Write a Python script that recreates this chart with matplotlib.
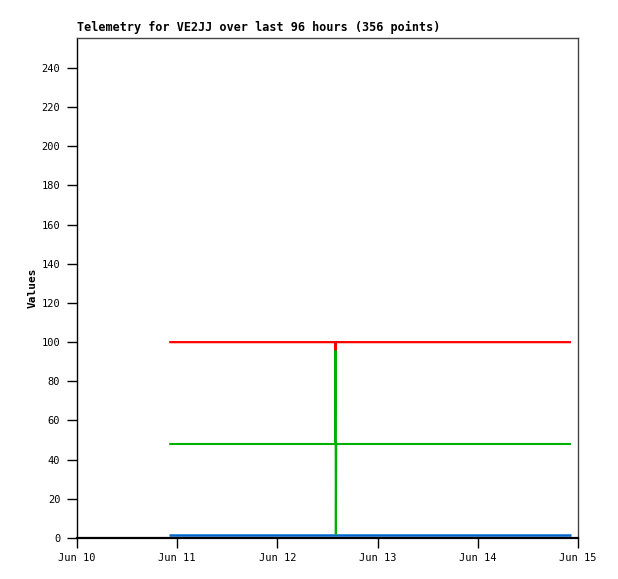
import matplotlib
matplotlib.use("Agg")
import matplotlib.pyplot as plt
import matplotlib.dates as mdates
from datetime import datetime

# Data (break points of the series)
times = ["2024-06-10 22:05", "2024-06-12 13:50", "2024-06-12 13:55",
         "2024-06-12 14:00", "2024-06-12 14:05", "2024-06-14 22:20"]
red_vals = [100, 100, 96, 100, 100, 100]
green_vals = [48, 48, 96, 2, 48, 48]
blue_vals = [1.5, 1.5, 1.5, 1.5, 1.5, 1.5]
yticks = list(range(0, 241, 20))
title = "Telemetry for VE2JJ over last 96 hours (356 points)"

t = [datetime.strptime(s, "%Y-%m-%d %H:%M") for s in times]

plt.rcParams['font.family'] = ['DejaVu Sans Mono']
fig = plt.figure(figsize=(6.18, 5.79), dpi=100)
ax = fig.add_axes([77/618, 1-538/579, (578-77)/618, (538-38)/579])

ax.plot(t, blue_vals, color="#0066cc", lw=1.8, solid_capstyle="butt")
ax.plot(t, green_vals, color="#00b000", lw=1.5, solid_capstyle="butt")
ax.plot(t, red_vals, color="#ff0000", lw=1.6, solid_capstyle="butt")

ax.set_xlim(datetime(2024, 6, 10), datetime(2024, 6, 15))
ax.set_ylim(0, 255.3)
ax.set_yticks(yticks)
ax.xaxis.set_major_locator(mdates.DayLocator())
ax.xaxis.set_major_formatter(mdates.DateFormatter("%b %d"))

ax.tick_params(axis="both", direction="out", length=7, width=1, colors="black",
               labelsize=7.5, pad=5)
ax.tick_params(axis="x", pad=4)
for s in ["top", "right"]:
    ax.spines[s].set_color("#444444")
    ax.spines[s].set_linewidth(1)
ax.spines["left"].set_color("black")
ax.spines["left"].set_linewidth(1)
ax.spines["bottom"].set_color("black")
ax.spines["bottom"].set_linewidth(1.6)

ax.set_ylabel("Values", fontsize=8, fontweight="bold", labelpad=3)
fig.text(77/618, 1-31/579, title, fontsize=8.5, fontweight="bold", ha="left", va="baseline")

fig.savefig("out.png", dpi=100, facecolor="white")
